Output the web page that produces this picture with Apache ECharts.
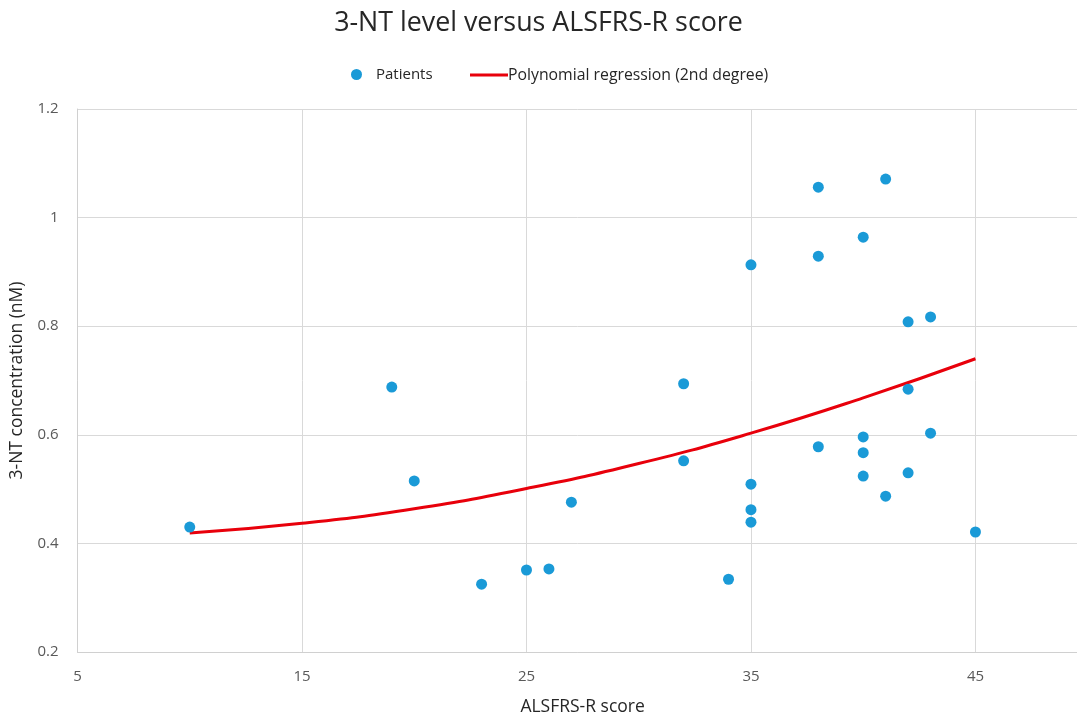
<!DOCTYPE html>
<html>
<head>
<meta charset="utf-8">
<script src="https://cdn.jsdelivr.net/npm/echarts@6/dist/echarts.min.js"></script>
<style>
html,body{margin:0;padding:0;background:#fff;}
#chart{width:1077px;height:713px;}
</style>
</head>
<body>
<div id="chart"></div>
<script>
// ALSFRS-R score of each patient
const patientScores = [10, 19, 20, 23, 25, 26, 27, 32, 32, 34, 35, 35, 35, 35, 38, 38, 38, 40, 40, 40, 40, 41, 41, 42, 42, 42, 43, 43, 45];
// 3-NT concentration (nM) of each patient
const patientNT = [0.430, 0.688, 0.515, 0.325, 0.351, 0.353, 0.476, 0.694, 0.552, 0.334, 0.913, 0.509, 0.462, 0.439, 1.056, 0.929, 0.578, 0.964, 0.596, 0.567, 0.524, 1.071, 0.487, 0.808, 0.684, 0.530, 0.817, 0.603, 0.421];
// Regression curve
const curveX = [10, 15, 20, 25, 30, 35, 40, 45];
const curveY = [0.419, 0.437, 0.464, 0.501, 0.547, 0.603, 0.668, 0.740];

const xTicks = [5, 15, 25, 35, 45];
const yTicks = [0.2, 0.4, 0.6, 0.8, 1, 1.2];

const scatterData = patientScores.map((x, i) => [x, patientNT[i]]);
const curveData = curveX.map((x, i) => [x, curveY[i]]);

const font = '"Open Sans", "Noto Sans", sans-serif';
const chart = echarts.init(document.getElementById('chart'));
chart.setOption({
  animation: false,
  title: {
    text: '3-NT level versus ALSFRS-R score',
    left: 'center',
    top: 5,
    textStyle: {fontFamily: font, fontSize: 26.8, fontWeight: 'normal', color: '#262626'}
  },
  legend: [{
    data: [{name: 'Patients', icon: 'circle'}],
    left: 346, top: 62,
    itemWidth: 11, itemHeight: 11, itemGap: 10,
    textStyle: {fontFamily: font, fontSize: 15, color: '#262626', padding: [0, 0, 0, 9]}
  }, {
    data: [{name: 'Polynomial regression (2nd degree)', icon: 'rect'}],
    left: 465, top: 62,
    itemWidth: 38, itemHeight: 3,
    itemStyle: {color: '#e8000b'},
    textStyle: {fontFamily: font, fontSize: 15.8, color: '#262626', padding: [0, 0, 0, -5]}
  }],
  grid: {left: 77.5, right: -10.7, top: 109, bottom: 61, containLabel: false, outerBoundsMode: 'none'},
  xAxis: {
    type: 'value',
    min: xTicks[0], max: 50, interval: 10,
    name: 'ALSFRS-R score',
    nameLocation: 'middle', nameGap: 46,
    nameTextStyle: {fontFamily: font, fontSize: 17.5, color: '#262626'},
    axisLine: {show: true, lineStyle: {color: '#d0d0d0', width: 1}},
    axisTick: {show: false},
    axisLabel: {fontFamily: font, fontSize: 15, color: '#595959', margin: 17, showMaxLabel: false},
    splitLine: {show: true, lineStyle: {color: '#d9d9d9', width: 1}}
  },
  yAxis: {
    type: 'value',
    min: yTicks[0], max: yTicks[yTicks.length - 1], interval: 0.2,
    name: '3-NT concentration (nM)',
    nameLocation: 'middle', nameGap: 50, nameRotate: 90,
    nameTextStyle: {fontFamily: font, fontSize: 17.5, color: '#262626'},
    axisLine: {show: true, lineStyle: {color: '#d0d0d0', width: 1}},
    axisTick: {show: false},
    axisLabel: {fontFamily: font, fontSize: 15, color: '#595959', margin: 19,
      formatter: v => String(Math.round(v * 10) / 10)},
    splitLine: {show: true, lineStyle: {color: '#d9d9d9', width: 1}}
  },
  series: [{
    name: 'Patients',
    type: 'scatter',
    data: scatterData,
    symbol: 'circle',
    symbolSize: 11,
    itemStyle: {color: '#1a9ad7', opacity: 1},
    z: 3
  }, {
    name: 'Polynomial regression (2nd degree)',
    type: 'line',
    data: curveData,
    smooth: true,
    symbol: 'none',
    showSymbol: false,
    lineStyle: {color: '#e8000b', width: 3},
    itemStyle: {color: '#e8000b'},
    z: 2
  }]
});
</script>
</body>
</html>
